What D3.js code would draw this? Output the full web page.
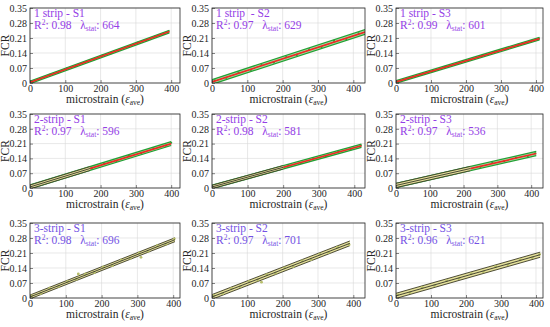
<!DOCTYPE html>
<html>
<head>
<meta charset="utf-8">
<script src="https://cdn.jsdelivr.net/npm/d3@7"></script>
<style>
  html, body { margin: 0; padding: 0; background: #fff; }
  svg text { font-family: "Liberation Serif", "Times New Roman", Times, serif !important; }
</style>
</head>
<body>
<div id="app"></div>
<script>
// DATA
const titles = ['1 strip - S1', '1 strip  - S2', '1 strip - S3',
                '2-strip - S1', '2-strip - S2', '2-strip - S3',
                '3-strip - S1', '3-strip - S2', '3-strip - S3'];
const r2Values = ['0.98', '0.97', '0.99', '0.97', '0.98', '0.97', '0.98', '0.97', '0.96'];
const lambdaValues = [664, 629, 601, 596, 581, 536, 696, 701, 621];
const yTicks = [0, 0.07, 0.14, 0.21, 0.28, 0.35];
const xTicks = [0, 100, 200, 300, 400];
const xMax = [425, 433, 420, 425, 430, 435, 419, 433, 420];

// fitted line: strain at end, FCR at start / end
const fitEnd = [395, 433, 410, 400, 420, 415, 405, 390, 412];
const fitY0 = [0.003, 0.005, 0.005, 0.005, 0.005, 0.012, 0.005, 0.005, 0.010];
const fitY1 = [0.240, 0.238, 0.207, 0.210, 0.200, 0.163, 0.272, 0.255, 0.202];
const bandHalf = [0.006, 0.011, 0.006, 0.009, 0.008, 0.010, 0.009, 0.011, 0.012];
// 2-strip panels: dark overlay band up to this strain
const overlayEnd = [0, 0, 0, 170, 200, 220, 0, 0, 0];

// measured points (strain, FCR)
const strainPts = [
  [5, 30, 55, 80, 105, 130, 155, 180, 205, 230, 255, 280, 305, 330, 355, 380, 392],
  [8, 40, 75, 110, 140, 175, 210, 240, 275, 310, 345, 380, 415],
  [5, 35, 70, 105, 140, 175, 210, 245, 280, 315, 350, 385, 408],
  [5, 35, 70, 105, 140, 175, 210, 245, 280, 315, 350, 385, 400],
  [5, 40, 75, 110, 145, 180, 215, 250, 285, 320, 355, 390, 418],
  [5, 40, 75, 110, 145, 180, 215, 250, 285, 320, 355, 390, 412],
  [5, 30, 55, 80, 105, 130, 135, 155, 180, 205, 230, 255, 280, 305, 310, 330, 355, 380, 403],
  [5, 30, 55, 80, 105, 130, 140, 155, 180, 205, 230, 255, 280, 305, 330, 355, 388],
  [5, 40, 75, 110, 145, 180, 215, 250, 285, 320, 355, 390, 410]
];
const fcrPts = [
  [0.007, 0.019, 0.038, 0.049, 0.068, 0.079, 0.098, 0.109, 0.128, 0.139, 0.158, 0.169, 0.188, 0.199, 0.218, 0.229, 0.240],
  [0.012, 0.024, 0.049, 0.061, 0.084, 0.096, 0.121, 0.131, 0.157, 0.168, 0.197, 0.205, 0.232],
  [0.008, 0.021, 0.041, 0.055, 0.075, 0.090, 0.110, 0.125, 0.144, 0.159, 0.179, 0.194, 0.207],
  [0.009, 0.021, 0.044, 0.056, 0.080, 0.092, 0.116, 0.128, 0.152, 0.164, 0.188, 0.200, 0.214],
  [0.009, 0.021, 0.043, 0.053, 0.075, 0.086, 0.108, 0.118, 0.140, 0.150, 0.173, 0.183, 0.201],
  [0.016, 0.024, 0.042, 0.049, 0.068, 0.075, 0.093, 0.100, 0.119, 0.126, 0.144, 0.151, 0.164],
  [0.010, 0.021, 0.046, 0.054, 0.078, 0.087, 0.112, 0.112, 0.119, 0.145, 0.151, 0.178, 0.185, 0.211, 0.190, 0.218, 0.244, 0.251, 0.276],
  [0.011, 0.020, 0.045, 0.052, 0.077, 0.084, 0.074, 0.109, 0.116, 0.141, 0.147, 0.173, 0.179, 0.205, 0.212, 0.237, 0.249],
  [0.015, 0.025, 0.049, 0.058, 0.081, 0.090, 0.114, 0.122, 0.147, 0.155, 0.179, 0.188, 0.204]
];

// LAYOUT
const W = 550, H = 327;
const colLeft = [30, 212, 396], colRight = [180, 365, 543];
const rowTop = [8, 114, 223], rowBottom = [83, 188, 298];
const serif = '"Liberation Serif", "Times New Roman", Times, serif';

const greenStyle = {fill: '#a8dca8', edge: '#23a034', center: '#ee2a24', point: '#2e9e3a', edgeW: 1.3, centerW: 1.7, r: 1.1};
const darkStyle = {fill: '#e4e09a', edge: '#3b3a26', center: '#34342a', point: '#b6bd6a', edgeW: 0.9, centerW: 0.9, r: 1.4};

const svg = d3.select('#app').append('svg')
  .attr('width', W).attr('height', H);

function drawBand(g, x, y, x0, x1, i, st) {
  const slope = (fitY1[i] - fitY0[i]) / fitEnd[i];
  const ends = [x0, x1];
  const f = s => fitY0[i] + slope * s;
  const h = bandHalf[i];

  g.append('path').datum(ends)
    .attr('d', d3.area().x(d => x(d)).y0(d => y(f(d) - h)).y1(d => y(f(d) + h)))
    .attr('fill', st.fill);
  [-h, h].forEach(off => {
    g.append('path').datum(ends)
      .attr('d', d3.line().x(d => x(d)).y(d => y(f(d) + off)))
      .attr('fill', 'none').attr('stroke', st.edge).attr('stroke-width', st.edgeW);
  });
  return f;
}

function drawPanel(i) {
  const row = Math.floor(i / 3), col = i % 3;
  const L = colLeft[col], R = colRight[col], T = rowTop[row], B = rowBottom[row];
  const x = d3.scaleLinear().domain([0, xMax[i]]).range([L, R]);
  const y = d3.scaleLinear().domain([0, 0.35]).range([B, T]);
  const g = svg.append('g');

  // grid
  g.selectAll('.gx').data(xTicks).enter().append('line')
    .attr('x1', d => x(d)).attr('x2', d => x(d)).attr('y1', T).attr('y2', B)
    .attr('stroke', '#d8d8d8').attr('stroke-width', 0.6);
  g.selectAll('.gy').data(yTicks).enter().append('line')
    .attr('x1', L).attr('x2', R).attr('y1', d => y(d)).attr('y2', d => y(d))
    .attr('stroke', '#d8d8d8').attr('stroke-width', 0.6);

  const clip = 'clip' + i;
  g.append('clipPath').attr('id', clip).append('rect')
    .attr('x', L).attr('y', T).attr('width', R - L).attr('height', B - T);
  const plot = g.append('g').attr('clip-path', `url(#${clip})`);

  const st = row === 2 ? darkStyle : greenStyle;
  const f = drawBand(plot, x, y, 0, fitEnd[i], i, st);

  const pts = d3.zip(strainPts[i], fcrPts[i]);
  plot.selectAll('.pt').data(pts).enter().append('circle')
    .attr('cx', d => x(d[0])).attr('cy', d => y(d[1])).attr('r', st.r)
    .attr('fill', st.point);

  plot.append('path').datum([0, fitEnd[i]])
    .attr('d', d3.line().x(d => x(d)).y(d => y(f(d))))
    .attr('fill', 'none').attr('stroke', st.center).attr('stroke-width', st.centerW);

  if (overlayEnd[i] > 0) {
    const f2 = drawBand(plot, x, y, 0, overlayEnd[i], i, darkStyle);
    plot.append('path').datum([0, overlayEnd[i]])
      .attr('d', d3.line().x(d => x(d)).y(d => y(f2(d))))
      .attr('fill', 'none').attr('stroke', darkStyle.center).attr('stroke-width', darkStyle.centerW);
  }

  // axes
  const xAxis = d3.axisBottom(x).tickValues(xTicks).tickSize(-3).tickPadding(2);
  const yAxis = d3.axisLeft(y).tickValues(yTicks).tickSize(-3).tickPadding(3)
    .tickFormat(d => d === 0 ? '0' : d3.format('.2f')(d));
  [g.append('g').attr('transform', `translate(0,${B})`).call(xAxis),
   g.append('g').attr('transform', `translate(${L},0)`).call(yAxis)].forEach(a => {
    a.attr('font-family', serif);
    a.select('.domain').remove();
    a.selectAll('line').attr('stroke', '#333').attr('stroke-width', 0.6);
    a.selectAll('text').style('font-family', serif)
      .attr('font-size', 10).attr('fill', '#262626');
  });
  g.append('rect').attr('x', L).attr('y', T).attr('width', R - L).attr('height', B - T)
    .attr('fill', 'none').attr('stroke', '#262626').attr('stroke-width', 0.8);

  // labels
  g.append('text').attr('transform', `translate(${L - 21},${(T + B) / 2}) rotate(-90)`)
    .style('font-family', serif)
    .attr('text-anchor', 'middle').attr('font-size', 11.5).attr('fill', '#262626').text('FCR');
  const xl = g.append('text').attr('x', (L + R) / 2).attr('y', B + 20)
    .style('font-family', serif)
    .attr('text-anchor', 'middle').attr('font-size', 11.5).attr('fill', '#262626');
  xl.append('tspan').text('microstrain (');
  xl.append('tspan').attr('font-style', 'italic').text('ε');
  xl.append('tspan').attr('font-size', 7.5).attr('dy', 2).text('ave');
  xl.append('tspan').attr('dy', -2).text(')');

  const purple = row === 2 ? '#7452e4' : '#9440e6';
  g.append('text').attr('x', L + 4).attr('y', T + 9).attr('font-size', 11.5)
    .style('font-family', serif).style('white-space', 'pre')
    .attr('fill', purple).text(titles[i]);
  const t2 = g.append('text').attr('x', L + 4).attr('y', T + 20.5).attr('font-size', 11.5)
    .style('font-family', serif).attr('fill', purple);
  t2.append('tspan').text('R');
  t2.append('tspan').attr('font-size', 7.5).attr('dy', -3.5).text('2');
  t2.append('tspan').attr('dy', 3.5).text(': ' + r2Values[i] + '\u00a0\u00a0\u00a0λ');
  t2.append('tspan').attr('font-size', 7.5).attr('dy', 2).text('stat');
  t2.append('tspan').attr('dy', -2).text(': ' + lambdaValues[i]);
}

d3.range(9).forEach(drawPanel);
</script>
</body>
</html>
